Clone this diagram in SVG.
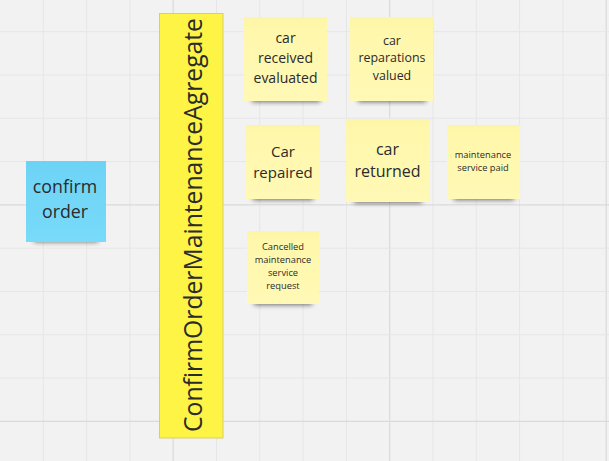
<svg xmlns="http://www.w3.org/2000/svg" width="609" height="461" viewBox="0 0 609 461">
<style>
  .minor { stroke: #e6e6e6; stroke-width: 1; }
  .major { stroke: #dadada; stroke-width: 1.2; }
  .t { font-family: "Open Sans", "Noto Sans", "DejaVu Sans", sans-serif; fill: #2b2b2b; text-anchor: middle; }
  .sticky { fill: url(#yellowGrad); }
  .shadow { fill: #000; opacity: 0.55; filter: url(#blur); }
</style>
<defs>
  <filter id="blur" x="-20%" y="-50%" width="140%" height="200%">
    <feGaussianBlur stdDeviation="2.5"/>
  </filter>
  <linearGradient id="yellowGrad" x1="0" y1="0" x2="0" y2="1">
    <stop offset="0" stop-color="#fdf5a6"/>
    <stop offset="0.15" stop-color="#fff7ab"/>
    <stop offset="1" stop-color="#fff9b6"/>
  </linearGradient>
  <linearGradient id="blueGrad" x1="0" y1="0" x2="0" y2="1">
    <stop offset="0" stop-color="#6dd3f5"/>
    <stop offset="1" stop-color="#79daf9"/>
  </linearGradient>
</defs>
<rect x="0" y="0" width="609" height="461" fill="#f2f2f2"/>
<g id="grid">
  <line class="minor" x1="43.3" y1="0" x2="43.3" y2="461"/>
  <line class="minor" x1="86.6" y1="0" x2="86.6" y2="461"/>
  <line class="minor" x1="129.9" y1="0" x2="129.9" y2="461"/>
  <line class="major" x1="173.2" y1="0" x2="173.2" y2="461"/>
  <line class="minor" x1="216.5" y1="0" x2="216.5" y2="461"/>
  <line class="minor" x1="259.8" y1="0" x2="259.8" y2="461"/>
  <line class="minor" x1="303.1" y1="0" x2="303.1" y2="461"/>
  <line class="minor" x1="346.4" y1="0" x2="346.4" y2="461"/>
  <line class="major" x1="389.7" y1="0" x2="389.7" y2="461"/>
  <line class="minor" x1="433" y1="0" x2="433" y2="461"/>
  <line class="minor" x1="476.3" y1="0" x2="476.3" y2="461"/>
  <line class="minor" x1="519.6" y1="0" x2="519.6" y2="461"/>
  <line class="minor" x1="562.9" y1="0" x2="562.9" y2="461"/>
  <line class="major" x1="606.2" y1="0" x2="606.2" y2="461"/>
  <line class="minor" x1="0" y1="31.7" x2="609" y2="31.7"/>
  <line class="minor" x1="0" y1="75" x2="609" y2="75"/>
  <line class="minor" x1="0" y1="118.3" x2="609" y2="118.3"/>
  <line class="minor" x1="0" y1="161.6" x2="609" y2="161.6"/>
  <line class="major" x1="0" y1="204.9" x2="609" y2="204.9"/>
  <line class="minor" x1="0" y1="248.2" x2="609" y2="248.2"/>
  <line class="minor" x1="0" y1="291.5" x2="609" y2="291.5"/>
  <line class="minor" x1="0" y1="334.8" x2="609" y2="334.8"/>
  <line class="minor" x1="0" y1="378.1" x2="609" y2="378.1"/>
  <line class="major" x1="0" y1="421.4" x2="609" y2="421.4"/>
</g>
<g id="connectors"></g>

<g id="confirm-order">
  <rect class="shadow" x="34" y="232" width="64" height="10"/>
  <rect x="26" y="161" width="80" height="81" fill="url(#blueGrad)"/>
  <text class="t" font-size="17.8" x="65" y="193">confirm</text>
  <text class="t" font-size="17.8" x="65" y="218">order</text>
</g>

<g id="aggregate">
  <rect x="159.5" y="13.5" width="63.5" height="424.5" fill="#fef445" stroke="#d6cf6a" stroke-width="1"/>
  <text class="t" font-size="25" textLength="414" lengthAdjust="spacingAndGlyphs" transform="translate(202,225) rotate(-90)" x="0" y="0">ConfirmOrderMaintenanceAgregate</text>
</g>

<g id="car-received-evaluated">
  <rect class="shadow" x="252" y="92" width="68" height="10"/>
  <rect class="sticky" x="244" y="17" width="83" height="84"/>
  <text class="t" font-size="14" x="285.5" y="43">car</text>
  <text class="t" font-size="14" x="285.5" y="63">received</text>
  <text class="t" font-size="14" x="285.5" y="83">evaluated</text>
</g>

<g id="car-reparations-valued">
  <rect class="shadow" x="358" y="92" width="68" height="10"/>
  <rect class="sticky" x="350" y="17" width="83" height="84"/>
  <text class="t" font-size="12.4" x="392" y="45">car</text>
  <text class="t" font-size="12.4" x="392" y="62">reparations</text>
  <text class="t" font-size="12.4" x="392" y="80">valued</text>
</g>

<g id="car-repaired">
  <rect class="shadow" x="253" y="190" width="60" height="10"/>
  <rect class="sticky" x="246" y="125" width="74" height="74"/>
  <text class="t" font-size="15" x="283" y="157">Car</text>
  <text class="t" font-size="15" x="283" y="178">repaired</text>
</g>

<g id="car-returned">
  <rect class="shadow" x="354" y="193" width="68" height="10"/>
  <rect class="sticky" x="346" y="119" width="84" height="83"/>
  <text class="t" font-size="16" x="387.5" y="155">car</text>
  <text class="t" font-size="16" x="387.5" y="177">returned</text>
</g>

<g id="maintenance-service-paid">
  <rect class="shadow" x="454" y="190" width="60" height="10"/>
  <rect class="sticky" x="447" y="125" width="73" height="74"/>
  <text class="t" font-size="9.3" x="483" y="158">maintenance</text>
  <text class="t" font-size="9.3" x="483" y="171">service paid</text>
</g>

<g id="cancelled-maintenance-service-request">
  <rect class="shadow" x="254" y="295" width="58" height="10"/>
  <rect class="sticky" x="247" y="231" width="72" height="73"/>
  <text class="t" font-size="9.3" x="283" y="250">Cancelled</text>
  <text class="t" font-size="9.3" x="283" y="263">maintenance</text>
  <text class="t" font-size="9.3" x="283" y="276">service</text>
  <text class="t" font-size="9.3" x="283" y="289">request</text>
</g>
</svg>
